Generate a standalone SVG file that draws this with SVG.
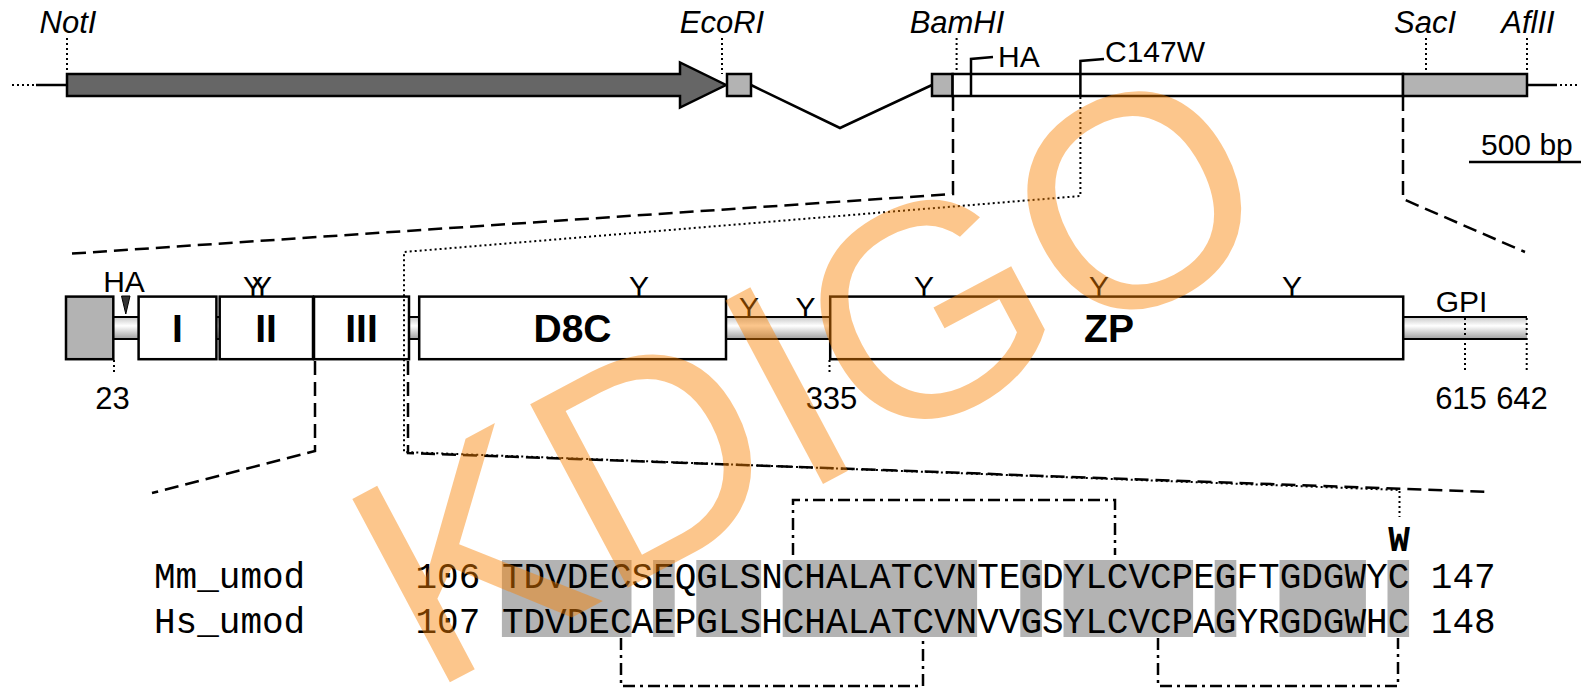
<svg xmlns="http://www.w3.org/2000/svg" width="1581" height="693" viewBox="0 0 1581 693">
<defs>
<style>
.t{font-family:"Liberation Sans",Arial,sans-serif;fill:#000}
.it{font-style:italic;font-size:31px;text-anchor:middle}
.lbl{font-size:30px}
.dom{font-size:39px;font-weight:bold;text-anchor:middle}
.y{font-size:30px;text-anchor:middle}
.num{font-size:31px;text-anchor:middle}
.mono{font-family:"Liberation Mono","Courier New",monospace;font-size:36px;fill:#000}
.box{fill:#fff;stroke:#000;stroke-width:2.5}
.gray{fill:#b3b3b3;stroke:#000;stroke-width:2.5}
.ln{fill:none;stroke:#000;stroke-width:2.5}
.dot{fill:none;stroke:#000;stroke-width:2;stroke-dasharray:2 3}
.dash{fill:none;stroke:#000;stroke-width:2.5;stroke-dasharray:14 7}
.dd{fill:none;stroke:#000;stroke-width:2.5;stroke-dasharray:12 5 3 5}
.shade{fill:#b3b3b3}
</style>
<linearGradient id="tg" x1="0" y1="0" x2="0" y2="1">
<stop offset="0" stop-color="#c8c8c8"/><stop offset="0.4" stop-color="#ffffff"/><stop offset="1" stop-color="#a0a0a0"/>
</linearGradient>
</defs>
<rect width="1581" height="693" fill="#fff"/>

<!-- top construct -->
<g id="construct">
<line class="dot" x1="12" y1="85" x2="36" y2="85"/>
<line class="ln" x1="36" y1="85" x2="67" y2="85"/>
<path d="M67,74 H680 V62.5 L726,85 L680,107.5 V96 H67 Z" fill="#666" stroke="#000" stroke-width="2.5"/>
<rect class="gray" x="727" y="74" width="24" height="22"/>
<path class="ln" d="M751,85 L840,128 L932,85"/>
<rect class="gray" x="932" y="74" width="20.6" height="22"/>
<rect class="box" x="952.6" y="74" width="450.4" height="22"/>
<rect class="gray" x="1403" y="74" width="124" height="22"/>
<line class="ln" x1="1527" y1="85" x2="1557" y2="85"/>
<line class="dot" x1="1560" y1="85" x2="1580" y2="85"/>
</g>
<g id="sites">
<text class="t it" x="68" y="33">NotI</text>
<line class="dot" x1="67" y1="38" x2="67" y2="74"/>
<text class="t it" x="722" y="33">EcoRI</text>
<line class="dot" x1="722" y1="38" x2="722" y2="74"/>
<text class="t it" x="957" y="33">BamHI</text>
<line class="dot" x1="956.6" y1="38" x2="956.6" y2="74"/>
<text class="t it" x="1425" y="33">SacI</text>
<line class="dot" x1="1426" y1="38" x2="1426" y2="74"/>
<text class="t it" x="1528" y="33">AflII</text>
<line class="dot" x1="1527" y1="38" x2="1527" y2="74"/>
</g>
<g id="ha-top">
<path class="ln" d="M971,96 V59 L993,57"/>
<text class="t lbl" x="998" y="67">HA</text>
</g>
<g id="c147w">
<path class="ln" d="M1080.4,96 V61 L1104,59"/>
<text class="t lbl" x="1105" y="62">C147W</text>
</g>
<g id="scale">
<text class="t lbl" x="1481" y="155">500 bp</text>
<line class="ln" x1="1469" y1="162" x2="1581" y2="162"/>
</g>

<!-- protein domain map -->
<g id="tube">
<rect x="113" y="317" width="1414" height="22" fill="url(#tg)"/>
<line x1="113" y1="317" x2="1527" y2="317" stroke="#000" stroke-width="2"/>
<line x1="113" y1="339" x2="1527" y2="339" stroke="#000" stroke-width="2"/>
</g>
<g id="signal"><rect class="gray" x="66" y="296.6" width="47.3" height="62.6"/></g>
<g id="dom-I"><rect class="box" x="138.6" y="296.6" width="77.8" height="62.6"/><text class="t dom" x="177.5" y="342">I</text></g>
<g id="dom-II"><rect class="box" x="219.7" y="296.6" width="93.3" height="62.6"/><text class="t dom" x="266" y="342">II</text></g>
<g id="dom-III"><rect class="box" x="314" y="296.6" width="95" height="62.6"/><text class="t dom" x="361.5" y="342">III</text></g>
<g id="dom-D8C"><rect class="box" x="419.2" y="296.6" width="306.8" height="62.6"/><text class="t dom" x="572.5" y="342">D8C</text></g>
<g id="dom-ZP"><rect class="box" x="830.2" y="296.6" width="573" height="62.6"/><text class="t dom" x="1109" y="342">ZP</text></g>
<g id="glyco">
<text class="t y" x="253" y="297">Y</text>
<text class="t y" x="262" y="297">Y</text>
<text class="t y" x="639" y="297">Y</text>
<text class="t y" x="749" y="318">Y</text>
<text class="t y" x="805.5" y="318">Y</text>
<text class="t y" x="924" y="297">Y</text>
<text class="t y" x="1099" y="297">Y</text>
<text class="t y" x="1292" y="297">Y</text>
</g>
<g id="ha-mid">
<text class="t lbl" x="124" y="292" text-anchor="middle">HA</text>
<path d="M121.5,296 L130,296 L125.8,314 Z" fill="#333" stroke="#000" stroke-width="1"/>
</g>
<g id="gpi"><text class="t lbl" x="1461.6" y="312" text-anchor="middle">GPI</text></g>
<g id="positions">
<line class="dot" x1="114" y1="360" x2="114" y2="373"/>
<text class="t num" x="112.6" y="409">23</text>
<line class="dot" x1="829.5" y1="360" x2="829.5" y2="373"/>
<text class="t num" x="831.5" y="409">335</text>
<line class="dot" x1="1465" y1="318" x2="1465" y2="373"/>
<text class="t num" x="1461" y="409">615</text>
<line class="dot" x1="1526.7" y1="318" x2="1526.7" y2="373"/>
<text class="t num" x="1522" y="409">642</text>
</g>

<!-- connectors -->
<g id="connectors">
<path class="dash" d="M953,97 V194 L66,254"/>
<path class="dash" d="M1403,97 V199 L1525,252"/>
<path class="dot" d="M1080.4,97 V196 L404,252 V452 L1399.5,490 V517"/>
<path class="dash" d="M315,361 V451 L152,493"/>
<path class="dash" d="M408,361 V453 L1491,492"/>
</g>

<!-- alignment -->
<g id="shading">
<rect class="shade" x="501.9" y="560" width="129.6" height="77"/>
<rect class="shade" x="653.1" y="560" width="21.6" height="77"/>
<rect class="shade" x="696.3" y="560" width="64.8" height="77"/>
<rect class="shade" x="782.7" y="560" width="194.4" height="77"/>
<rect class="shade" x="1020.3" y="560" width="21.6" height="77"/>
<rect class="shade" x="1063.5" y="560" width="129.6" height="77"/>
<rect class="shade" x="1214.7" y="560" width="21.6" height="77"/>
<rect class="shade" x="1279.5" y="560" width="86.4" height="77"/>
<rect class="shade" x="1387.5" y="560" width="21.6" height="77"/>
</g>
<g id="seq-mm">
<text class="mono" x="154" y="588">Mm_umod</text>
<text class="mono" x="415.5" y="588">106 TDVDECSEQGLSNCHALATCVNTEGDYLCVCPEGFTGDGWYC 147</text>
</g>
<g id="seq-hs">
<text class="mono" x="154" y="633">Hs_umod</text>
<text class="mono" x="415.5" y="633">107 TDVDECAEPGLSHCHALATCVNVVGSYLCVCPAGYRGDGWHC 148</text>
</g>
<g id="mutation"><text class="mono" x="1399" y="551" font-size="33" font-weight="bold" text-anchor="middle">W</text></g>
<g id="disulfides">
<path class="dd" d="M793,555 V500 H1115 V555"/>
<path class="dd" d="M621,638 V686 H923 V638"/>
<path class="dd" d="M1158,638 V686 H1398 V638"/>
</g>

<g id="watermark">
<text transform="translate(428,694) rotate(-28)" font-family="'Liberation Sans',Arial,sans-serif" font-size="302" fill="#f88000" fill-opacity="0.45">KDIGO</text>
</g>
</svg>
